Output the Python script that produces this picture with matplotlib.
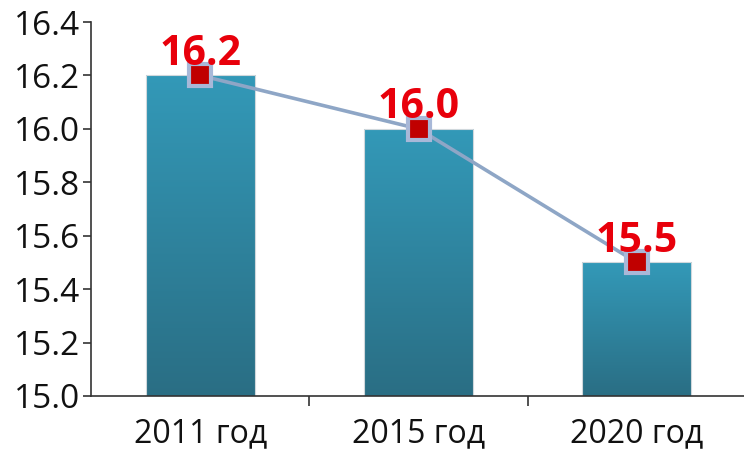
import numpy as np
import matplotlib
matplotlib.use("Agg")
import matplotlib.pyplot as plt
from matplotlib.colors import LinearSegmentedColormap

categories = ["2011 год", "2015 год", "2020 год"]
values = [16.2, 16.0, 15.5]
y_ticks = [15.0, 15.2, 15.4, 15.6, 15.8, 16.0, 16.2, 16.4]

plt.rcParams["font.family"] = ["Open Sans", "DejaVu Sans"]

fig = plt.figure(figsize=(7.44, 4.49), dpi=100)
ax = fig.add_axes([91 / 744, 1 - 396 / 449, 655 / 744, 374 / 449])

x = np.arange(len(categories))
bar_w = 0.5
bars = ax.bar(x, values, width=bar_w, bottom=0, color="none",
              edgecolor="#d0d8dc", linewidth=0.8, zorder=2)

# vertical gradient fill for each bar
grad_cmap = LinearSegmentedColormap.from_list("bar", ["#2a6e84", "#3399b8"])
grad = np.linspace(0, 1, 256).reshape(-1, 1)
for b, v in zip(bars, values):
    x0 = b.get_x()
    im = ax.imshow(grad, cmap=grad_cmap, aspect="auto", origin="lower",
                   extent=[x0, x0 + bar_w, 15.0, v], zorder=1)
    im.set_clip_path(b)

ax.plot(x, values, color="#8ea6c6", linewidth=2.6, zorder=3,
        marker="s", markersize=15.5, markerfacecolor="#c00000",
        markeredgecolor="#a8b8d8", markeredgewidth=3)

for xi, v in zip(x, values):
    ax.annotate(f"{v:.1f}", (xi, v), xytext=(0, 7.5), textcoords="offset points",
                ha="center", va="baseline", color="#e8000b", fontsize=29.5,
                fontweight="bold", zorder=4)

ax.set_xlim(-0.5, 2.5)
ax.set_ylim(15.0, 16.4)
ax.set_yticks(y_ticks)
ax.set_yticklabels([f"{t:.1f}" for t in y_ticks])
ax.set_xticks(x)
ax.set_xticklabels(categories)
ax.set_xticks([0.5, 1.5], minor=True)
ax.tick_params(axis="x", which="major", length=0, pad=15, labelsize=23, colors="#111111")
ax.tick_params(axis="x", which="minor", length=7, width=1.2, color="#333333", direction="out")
ax.tick_params(axis="y", length=6, width=1.2, color="#333333", labelsize=24,
               labelcolor="#111111", pad=2)

for s in ("top", "right"):
    ax.spines[s].set_visible(False)
for s in ("left", "bottom"):
    ax.spines[s].set_color("#333333")
    ax.spines[s].set_linewidth(1.2)

fig.savefig("out.png", dpi=100)
